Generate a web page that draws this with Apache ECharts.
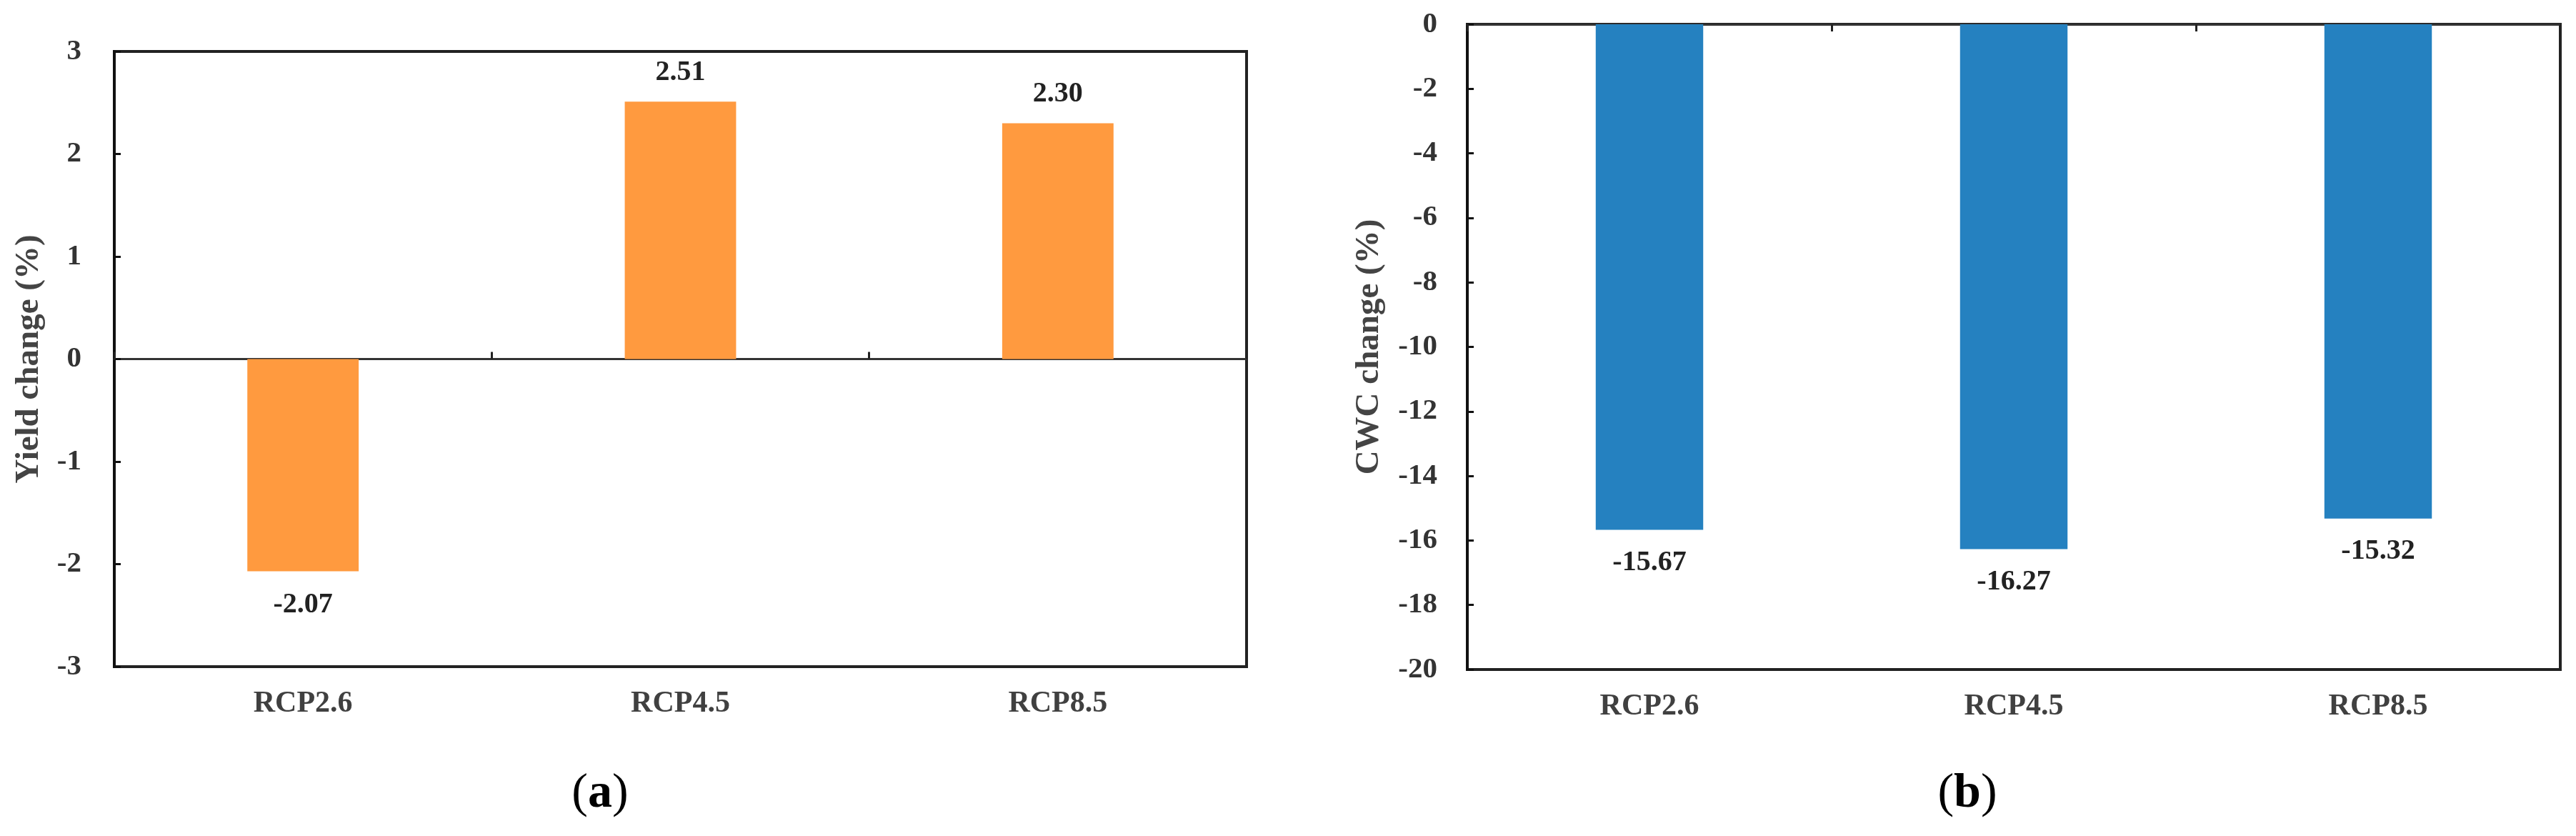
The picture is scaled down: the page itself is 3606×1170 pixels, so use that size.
<!DOCTYPE html>
<html>
<head>
<meta charset="utf-8">
<script src="https://cdn.jsdelivr.net/npm/echarts@6/dist/echarts.min.js"></script>
<style>
html,body{margin:0;padding:0;background:#fff;}
#main{width:3606px;height:1170px;}
</style>
</head>
<body>
<div id="main"></div>
<script>
// ---- data ----
const categories = ['RCP2.6', 'RCP4.5', 'RCP8.5'];
const yieldChange = [-2.07, 2.51, 2.30];
const cwcChange = [-15.67, -16.27, -15.32];
const yieldTicks = { min: -3, max: 3, interval: 1 };
const cwcTicks = { min: -20, max: 0, interval: 2 };
const yieldAxisName = 'Yield change (%)';
const cwcAxisName = 'CWC change (%)';
const panelLetters = ['a', 'b'];

const FONT = '"Liberation Serif","Times New Roman",serif';
const ORANGE = '#FF9A3F';
const BLUE = '#2581C0';

function barData(vals, posDist, negDist) {
  return vals.map(v => ({
    value: v,
    label: { position: v < 0 ? 'bottom' : 'top', distance: v < 0 ? negDist : posDist }
  }));
}

function labelAxis(gridIndex) {
  return {
    gridIndex, type: 'category', data: categories, position: 'bottom',
    axisLine: { show: false, onZero: false },
    axisTick: { show: false },
    axisLabel: { margin: 31, fontSize: 42, fontWeight: 'bold', color: '#404040', fontFamily: FONT },
    splitLine: { show: false }
  };
}
function zeroAxis(gridIndex, position) {
  return {
    gridIndex, type: 'category', data: categories, position,
    axisLine: { show: true, onZero: true, lineStyle: { color: '#333', width: 3 } },
    axisTick: { show: true, inside: true, length: 10, lineStyle: { color: '#222', width: 3 } },
    axisLabel: { show: false },
    splitLine: { show: false }
  };
}
function valueAxis(gridIndex, ticks, name, margin, nameGap) {
  return {
    gridIndex, type: 'value', min: ticks.min, max: ticks.max, interval: ticks.interval,
    name, nameLocation: 'middle', nameGap,
    nameTextStyle: { fontSize: 47, fontWeight: 'bold', color: '#444', fontFamily: FONT },
    axisLine: { show: true, lineStyle: { color: '#111', width: 4 } },
    axisTick: { show: true, inside: true, length: 9, lineStyle: { color: '#111', width: 3 } },
    axisLabel: { margin, fontSize: 41, fontWeight: 'bold', color: '#333', fontFamily: FONT },
    splitLine: { show: false }
  };
}

function panelTitle(letter, x) {
  return {
    text: '{p|(}{b|' + letter + '}{p|)}', left: x, top: 1072, textAlign: 'center',
    textStyle: { rich: {
      p: { fontSize: 68, fontFamily: FONT, fontWeight: 'normal', color: '#000' },
      b: { fontSize: 68, fontFamily: FONT, fontWeight: 'bold', color: '#000' } } }
  };
}

const chart = echarts.init(document.getElementById('main'));
chart.setOption({
  backgroundColor: '#fff',
  animation: false,
  title: [ panelTitle(panelLetters[0], 835), panelTitle(panelLetters[1], 2749) ],
  grid: [
    { left: 160, right: 1861, top: 72, bottom: 237, show: true, borderColor: '#222', borderWidth: 4, backgroundColor: 'transparent' },
    { left: 2054, right: 22, top: 34, bottom: 233, show: true, borderColor: '#222', borderWidth: 4, backgroundColor: 'transparent' }
  ],
  xAxis: [ labelAxis(0), zeroAxis(0, 'bottom'), labelAxis(1), zeroAxis(1, 'top') ],
  yAxis: [
    valueAxis(0, yieldTicks, yieldAxisName, 46, 96),
    valueAxis(1, cwcTicks, cwcAxisName, 42, 114)
  ],
  series: [
    {
      type: 'bar', xAxisIndex: 0, yAxisIndex: 0, barWidth: '29.5%',
      data: barData(yieldChange, 21, 27),
      itemStyle: { color: ORANGE },
      label: { show: true, fontSize: 40, fontWeight: 'bold', color: '#222', fontFamily: FONT,
        formatter: p => p.value.toFixed(2) }
    },
    {
      type: 'bar', xAxisIndex: 2, yAxisIndex: 1, barWidth: '29.5%',
      data: barData(cwcChange, 21, 26),
      itemStyle: { color: BLUE },
      label: { show: true, fontSize: 40, fontWeight: 'bold', color: '#222', fontFamily: FONT,
        formatter: p => p.value.toFixed(2) }
    }
  ]
});
</script>
</body>
</html>
